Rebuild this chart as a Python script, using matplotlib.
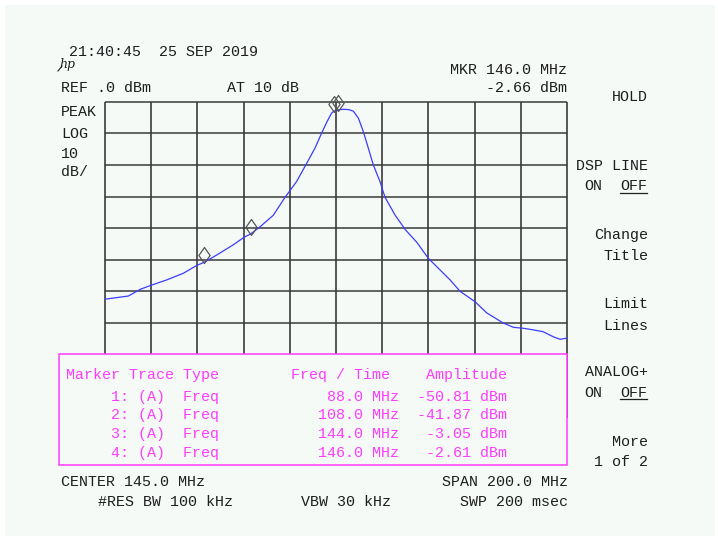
import matplotlib
matplotlib.use('Agg')
import matplotlib.pyplot as plt
import numpy as np
from matplotlib.patches import Rectangle
from matplotlib.path import Path
from matplotlib.transforms import offset_copy

# ---------------- data ----------------
center_mhz = 145.0
span_mhz = 200.0
ref_dbm = 0.0
db_per_div = 10

trace_freq = [45.0, 50.0, 55.1, 60.2, 64.9, 71.7, 78.9, 85.0, 88.0, 93.4, 100.5, 105.2,
              108.0, 112.1, 117.9, 122.9, 128.0, 132.0, 135.9, 138.8, 141.2, 143.1,
              144.0, 145.0, 146.0, 148.0, 150.5, 152.5, 154.7, 156.8, 159.0, 161.1,
              164.0, 166.2, 170.5, 175.0, 180.0, 185.0, 189.3, 194.4, 198.7, 205.2,
              210.2, 217.3, 221.8, 226.1, 230.4, 234.7, 239.1, 242.0, 245.0]
trace_amp = [-62.5, -62.0, -61.5, -59.4, -58.1, -56.4, -54.3, -51.7, -50.81, -48.5, -45.3, -42.9,
             -41.87, -39.6, -35.9, -30.3, -25.2, -19.9, -14.7, -9.9, -6.2, -3.6,
             -3.05, -2.8, -2.61, -2.4, -2.5, -3.0, -5.2, -9.4, -14.7, -19.9,
             -25.2, -30.2, -35.8, -40.5, -44.5, -49.6, -52.7, -56.4, -60.0, -63.3,
             -66.8, -70.0, -71.4, -71.7, -72.2, -72.8, -74.4, -75.2, -74.8]

marker_num = [1, 2, 3, 4]
marker_trace = ['A', 'A', 'A', 'A']
marker_type = ['Freq', 'Freq', 'Freq', 'Freq']
marker_freq = [88.0, 108.0, 144.0, 146.0]
marker_amp = [-50.81, -41.87, -3.05, -2.61]

menu_items = [('HOLD', 100.8), ('DSP LINE', 169.8), ('Change', 238.8), ('Title', 259.5),
              ('Limit', 307.8), ('Lines', 329.5), ('ANALOG+', 376.0), ('More', 445.5),
              ('1 of 2', 466.5)]

# ---------------- figure ----------------
W, H = 718, 540
fig = plt.figure(figsize=(W / 100, H / 100), dpi=100)
fig.patch.set_facecolor('white')
BG = '#f5faf7'
INK = '#1e1e1e'
MAG = '#ff3cff'
MONO = 'Liberation Mono'
FS = 10.8

bg = fig.add_axes([0, 0, 1, 1])
bg.set_xlim(0, W); bg.set_ylim(H, 0); bg.axis('off'); bg.set_zorder(0)
bg.add_patch(Rectangle((5, 5), 710, 531, facecolor=BG, edgecolor='none'))

# graticule axes
gx0, gx1, gy0 = 105, 567, 101.7
div_px = 31.6
ax = fig.add_axes([gx0 / W, 1 - (gy0 + 10 * div_px) / H, (gx1 - gx0) / W, 10 * div_px / H])
ax.set_zorder(1)
ax.patch.set_alpha(0)
fmin = center_mhz - span_mhz / 2
fmax = center_mhz + span_mhz / 2
ax.set_xlim(fmin, fmax)
ax.set_ylim(ref_dbm - 10 * db_per_div, ref_dbm)
for s in ax.spines.values():
    s.set_visible(False)
ax.set_xticks([]); ax.set_yticks([])
vx = np.linspace(fmin, fmax, 11)
hy = ref_dbm - db_per_div * np.arange(11)
ax.vlines(vx, ref_dbm - 10 * db_per_div, ref_dbm, colors='#2a2a2a', lw=1.1, clip_on=False)
ax.hlines(hy, fmin, fmax, colors='#3a3a3a', lw=1.1, clip_on=False)

ax.plot(trace_freq, trace_amp, color='#3c3cff', lw=0.9, zorder=3)

diamond = Path([(0, 1), (0.7, 0), (0, -1), (-0.7, 0), (0, 1)],
               [Path.MOVETO, Path.LINETO, Path.LINETO, Path.LINETO, Path.CLOSEPOLY])
up = offset_copy(ax.transData, fig=fig, x=0, y=7, units='dots')
ax.plot(marker_freq, marker_amp, linestyle='none', marker=diamond, markersize=11.5,
        markerfacecolor='none', markeredgecolor='#555555', markeredgewidth=0.9,
        transform=up, clip_on=False, zorder=4)

# overlay for text and marker table
ov = fig.add_axes([0, 0, 1, 1])
ov.set_xlim(0, W); ov.set_ylim(H, 0); ov.axis('off'); ov.set_zorder(2)
ov.patch.set_alpha(0)


def t(x, y, s, ha='left', color=INK, **kw):
    ov.text(x, y, s, ha=ha, va='baseline', color=color, fontfamily=MONO,
            fontsize=FS, **kw)


t(69, 56, '21:40:45  25 SEP 2019')
ov.text(59, 68, 'hp', fontstyle='italic', fontfamily='DejaVu Serif', fontsize=9,
        color=INK, va='baseline')
ov.plot([58, 62], [71, 66], color=INK, lw=0.8)
t(567, 74.2, f'MKR {marker_freq[3]:.1f} MHz', ha='right')
t(61, 92.2, f'REF .{int(ref_dbm)} dBm')
t(227, 92.2, 'AT 10 dB')
t(567, 92.5, '-2.66 dBm', ha='right')
t(61, 116.5, 'PEAK')
t(61, 137.5, 'LOG')
t(61, 158.5, f'{db_per_div}')
t(61, 176, 'dB/')

for label, yb in menu_items:
    t(648, yb, label, ha='right')
t(584, 190.2, 'ON')
t(620, 190.2, 'OFF')
ov.plot([620, 647], [192.5, 192.5], color=INK, lw=0.9)
t(584, 397.0, 'ON')
t(620, 397.0, 'OFF')
ov.plot([620, 647], [399.2, 399.2], color=INK, lw=0.9)

# marker table
ov.add_patch(Rectangle((59.3, 354.3), 508.0, 110.2, facecolor=BG, edgecolor=MAG, lw=1.1))
header = 'Marker Trace Type' + ' ' * 8 + 'Freq / Time' + ' ' * 4 + 'Amplitude'
t(66.5, 379, header, color=MAG)
row_y = [400.8, 419.3, 437.9, 456.5]
for n, tr, ty, f, a, yb in zip(marker_num, marker_trace, marker_type, marker_freq,
                               marker_amp, row_y):
    row = f"{' ' * 5}{n}: ({tr})  {ty}{f:16.1f} MHz{a:8.2f} dBm"
    t(66.5, yb, row, color=MAG)

t(61, 486.2, f'CENTER {center_mhz:.1f} MHz')
t(568, 486.2, f'SPAN {span_mhz:.1f} MHz', ha='right')
t(98, 505.5, '#RES BW 100 kHz')
t(301, 505.5, 'VBW 30 kHz')
t(568, 505.5, 'SWP 200 msec', ha='right')

fig.savefig('out.png', dpi=100, facecolor='white')
